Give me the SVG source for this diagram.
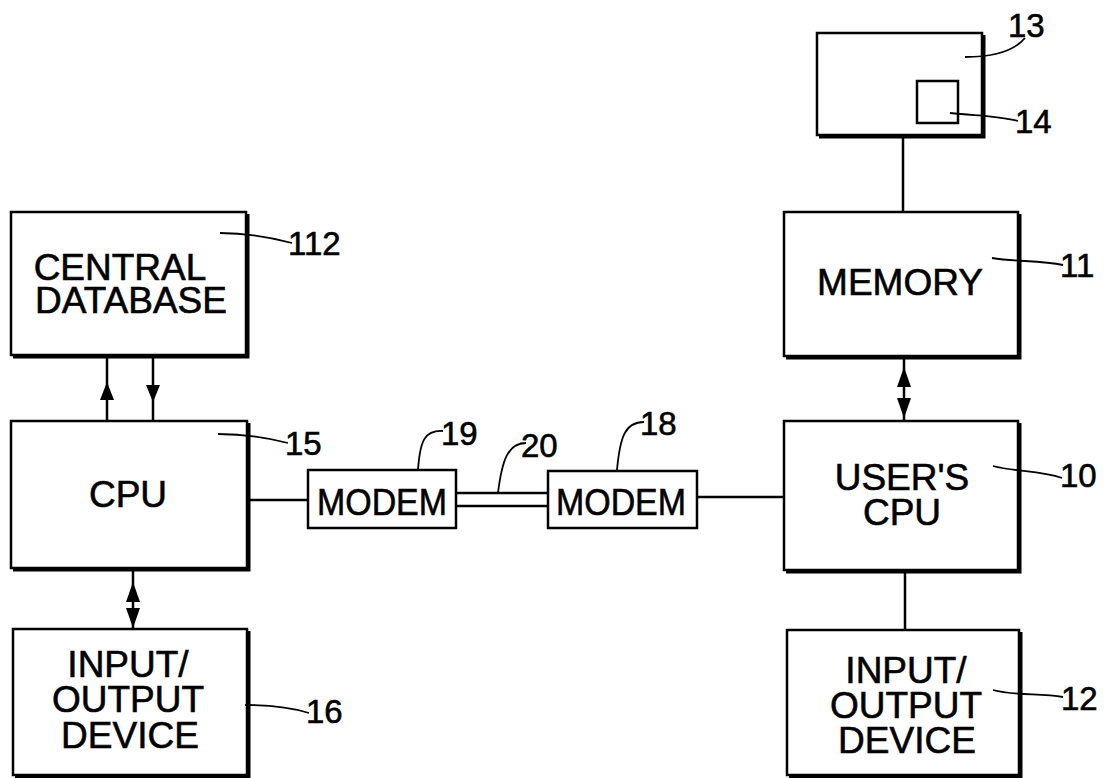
<svg xmlns="http://www.w3.org/2000/svg" width="1112" height="778" viewBox="0 0 1112 778">
<style>
.box{fill:#fff;stroke:#000;stroke-width:2.5}
.sh{fill:none;stroke:#000;stroke-width:3}
.ln{fill:none;stroke:#000;stroke-width:2.5}
.ld{fill:none;stroke:#000;stroke-width:1.8}
.ah{fill:#000;stroke:none}
.t{font-family:"Liberation Sans",Arial,sans-serif;font-size:37px;fill:#000;stroke:#000;stroke-width:0.6;text-anchor:middle}
.n{font-family:"Liberation Sans",Arial,sans-serif;font-size:33px;fill:#000;stroke:#000;stroke-width:0.6}
</style>
<rect width="1112" height="778" fill="#fff"/>
<g id="connectors">
<line class="ln" x1="107" y1="355" x2="107" y2="421"/>
<polygon class="ah" points="107,382 100,400 114,400"/>
<line class="ln" x1="153" y1="355" x2="153" y2="421"/>
<polygon class="ah" points="153,402 146,385 160,385"/>
<line class="ln" x1="133" y1="568" x2="133" y2="629"/>
<polygon class="ah" points="133,582 126,602 140,602"/>
<polygon class="ah" points="133,628 126,608 140,608"/>
<line class="ln" x1="904" y1="356" x2="904" y2="421"/>
<polygon class="ah" points="904,367 897,387 911,387"/>
<polygon class="ah" points="904,418 897,398 911,398"/>
<line class="ln" x1="903" y1="135" x2="903" y2="212"/>
<line class="ln" x1="905" y1="570" x2="905" y2="630"/>
<line class="ln" x1="247" y1="500" x2="308" y2="500"/>
<line class="ln" x1="456" y1="493" x2="548" y2="493"/>
<line class="ln" x1="456" y1="506" x2="548" y2="506"/>
<line class="ln" x1="697" y1="497" x2="784" y2="497"/>
</g>
<g id="central-database">
<rect class="box" x="11" y="212" width="235" height="143"/>
<path class="sh" d="M248,214 V357 H13"/>
<text class="t"><tspan x="120" y="280">CENTRAL</tspan><tspan x="131" y="313">DATABASE</tspan></text>
<path class="ld" d="M220,233 C245,233 265,236 292,243"/>
<text class="n" x="288" y="255">112</text>
</g>
<g id="cpu">
<rect class="box" x="11" y="421" width="236" height="147"/>
<path class="sh" d="M249,423 V570 H13"/>
<text class="t" x="128" y="507">CPU</text>
<path class="ld" d="M218,434 C245,434 265,437 288,443"/>
<text class="n" x="285" y="455">15</text>
</g>
<g id="io-16">
<rect class="box" x="13" y="629" width="234" height="146"/>
<path class="sh" d="M249,631 V777 H15"/>
<text class="t"><tspan x="128" y="677">INPUT/</tspan><tspan x="128" y="712">OUTPUT</tspan><tspan x="130" y="748">DEVICE</tspan></text>
<path class="ld" d="M245,705 C270,705 290,707 309,713"/>
<text class="n" x="306" y="723">16</text>
</g>
<g id="modem-19">
<rect class="box" x="308" y="470" width="148" height="58"/>
<text class="t" x="382" y="515" textLength="130" lengthAdjust="spacingAndGlyphs">MODEM</text>
<path class="ld" d="M418,470 C420,440 425,430 443,431"/>
<text class="n" x="441" y="445">19</text>
</g>
<g id="line-20">
<path class="ld" d="M498,493 C502,460 508,443 526,443"/>
<text class="n" x="521" y="457">20</text>
</g>
<g id="modem-18">
<rect class="box" x="548" y="471" width="149" height="57"/>
<text class="t" x="621" y="515" textLength="130" lengthAdjust="spacingAndGlyphs">MODEM</text>
<path class="ld" d="M617,470 C620,437 625,422 644,422"/>
<text class="n" x="640" y="435">18</text>
</g>
<g id="display-13">
<rect class="box" x="817" y="33" width="165" height="102"/>
<path class="sh" d="M984,35 V137 H819"/>
<path class="ld" d="M965,57 C995,57 1015,50 1025,38"/>
<text class="n" x="1008" y="37">13</text>
</g>
<g id="element-14">
<rect class="box" x="917" y="81" width="41" height="42" stroke-width="2"/>
<path class="ld" d="M950,113 C980,116 1000,116 1018,121"/>
<text class="n" x="1015" y="133">14</text>
</g>
<g id="memory">
<rect class="box" x="784" y="212" width="234" height="144"/>
<path class="sh" d="M1020,214 V358 H786"/>
<text class="t" x="900" y="295">MEMORY</text>
<path class="ld" d="M992,258 C1015,262 1040,260 1063,265"/>
<text class="n" x="1060" y="277">11</text>
</g>
<g id="users-cpu">
<rect class="box" x="784" y="421" width="234" height="149"/>
<path class="sh" d="M1020,423 V572 H786"/>
<text class="t"><tspan x="902" y="490">USER'S</tspan><tspan x="902" y="525">CPU</tspan></text>
<path class="ld" d="M993,466 C1015,472 1040,470 1062,478"/>
<text class="n" x="1060" y="487">10</text>
</g>
<g id="io-12">
<rect class="box" x="787" y="630" width="232" height="145"/>
<path class="sh" d="M1021,632 V777 H789"/>
<text class="t"><tspan x="906" y="683">INPUT/</tspan><tspan x="906" y="718">OUTPUT</tspan><tspan x="907" y="753">DEVICE</tspan></text>
<path class="ld" d="M993,690 C1015,696 1040,693 1063,697"/>
<text class="n" x="1061" y="710">12</text>
</g>
</svg>
